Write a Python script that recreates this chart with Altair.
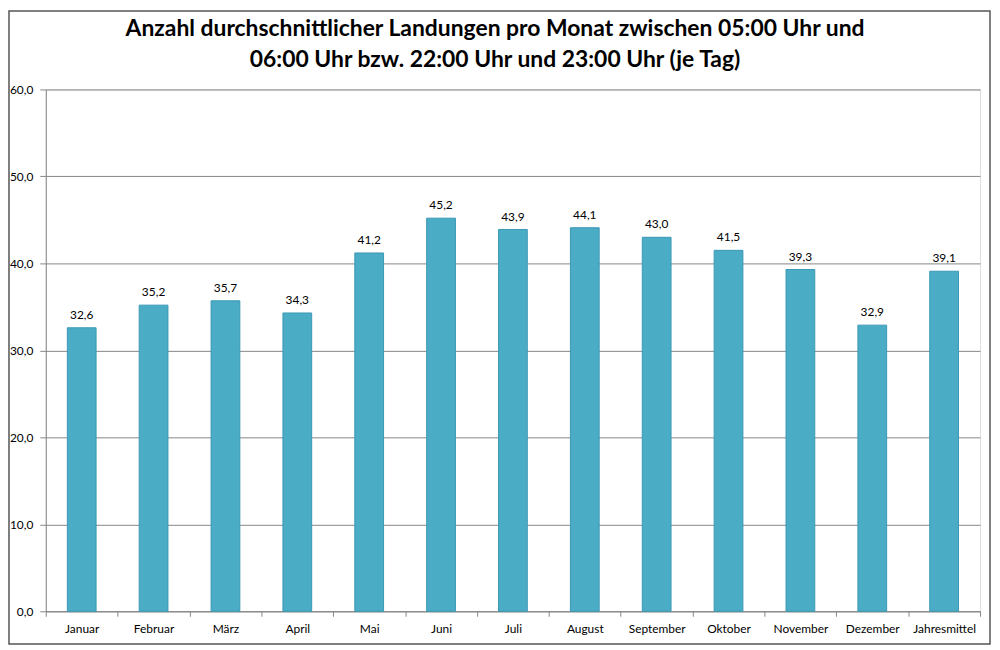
import altair as alt
import pandas as pd

months = ["Januar", "Februar", "März", "April", "Mai", "Juni", "Juli", "August",
          "September", "Oktober", "November", "Dezember", "Jahresmittel"]
values = [32.6, 35.2, 35.7, 34.3, 41.2, 45.2, 43.9, 44.1, 43.0, 41.5, 39.3, 32.9, 39.1]
y_ticks = [0, 10, 20, 30, 40, 50, 60]
title_lines = ["Anzahl durchschnittlicher Landungen pro Monat zwischen 05:00 Uhr und",
               "06:00 Uhr bzw. 22:00 Uhr und 23:00 Uhr (je Tag)"]

df = pd.DataFrame({"Monat": months, "Wert": values})

FONT = "Lato"
W, H = 940, 525

x_enc = alt.X("Monat:N", sort=months, title=None,
              scale=alt.Scale(paddingInner=0, paddingOuter=0),
              axis=alt.Axis(labelAngle=0, tickBand="extent", ticks=True, tickSize=5,
                            tickColor="#868686", domainColor="#868686",
                            labelFont=FONT, labelFontSize=12, labelColor="#000000",
                            labelPadding=7, grid=False))
y_enc = alt.Y("Wert:Q", title=None,
              scale=alt.Scale(domain=[0, 60], nice=False, zero=True),
              axis=alt.Axis(values=y_ticks, labelExpr="replace(format(datum.value, '.1f'), '.', ',')",
                            tickSize=6, tickColor="#868686", domainColor="#868686",
                            gridColor="#868686", grid=True, labelFont=FONT, labelFontSize=12,
                            labelColor="#000000", labelPadding=7))

bars = alt.Chart(df).mark_bar(width=alt.RelativeBandSize(0.4), color="#4BACC6",
                              stroke="#3A98B4", strokeWidth=1).encode(x=x_enc, y=y_enc)

labels = alt.Chart(df).transform_calculate(
    lab="replace(format(datum.Wert, '.1f'), '.', ',')"
).mark_text(font=FONT, fontSize=12, color="#000000", baseline="alphabetic", dy=-9).encode(
    x=alt.X("Monat:N", sort=months), y="Wert:Q", text="lab:N")

border = alt.Chart(df.head(1)).mark_rect(fill=None, stroke="#555555", strokeWidth=1.5).encode(
    x=alt.value(-37), x2=alt.value(950), y=alt.value(-79), y2=alt.value(558))

title_df = pd.DataFrame({"line": title_lines, "row": [0, 1]})
title1 = alt.Chart(title_df).transform_filter("datum.row == 0").mark_text(
    font=FONT, fontSize=23, fontWeight="bold", color="#000000", align="center",
    baseline="alphabetic").encode(text="line:N", x=alt.value(452), y=alt.value(-54))
title2 = alt.Chart(title_df).transform_filter("datum.row == 1").mark_text(
    font=FONT, fontSize=23, fontWeight="bold", color="#000000", align="center",
    baseline="alphabetic").encode(text="line:N", x=alt.value(452), y=alt.value(-23))

chart = alt.layer(bars, labels, border, title1, title2).properties(
    width=W, height=H,
    autosize=alt.AutoSizeParams(type="none"),
    padding={"left": 38, "top": 80, "right": 12, "bottom": 37},
).configure_view(stroke=None).configure(background="#ffffff")

chart.save("out.html", embed_options={"renderer": "svg", "actions": False})
